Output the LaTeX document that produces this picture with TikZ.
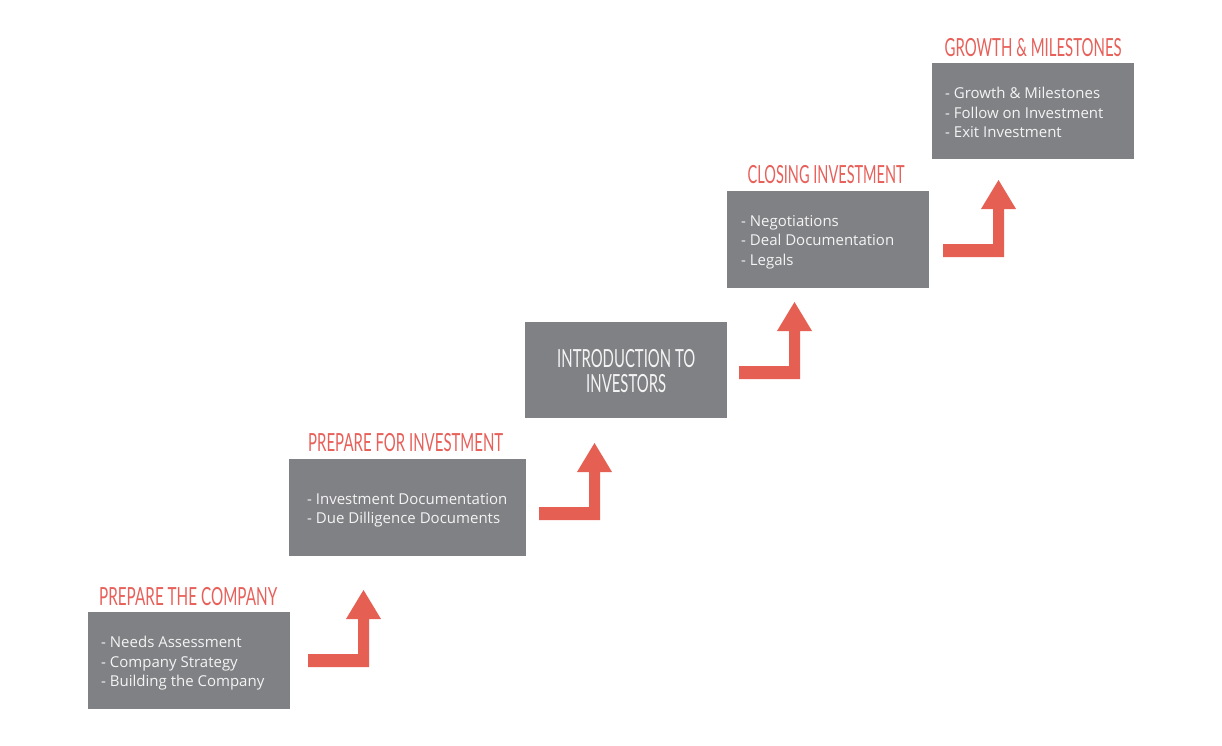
\documentclass[tikz,border=0pt]{standalone}
\usepackage{fontspec}
\setmainfont{Open Sans}
\newfontfamily\titlefont{Lato}
\usepackage{graphicx}
\definecolor{boxgray}{HTML}{808184}
\definecolor{titlered}{HTML}{E8605A}
\definecolor{arrowred}{HTML}{E55F53}
\definecolor{boxtextc}{HTML}{F4F4F4}
\newcommand\tw[2]{\resizebox{#1pt}{\height}{#2}}
\newsavebox\measbox
\newcommand\twopair[3]{%
  \sbox\measbox{#2}%
  \pgfmathparse{#1/\wd\measbox}%
  \xdef\myratio{\pgfmathresult}%
  \scalebox{\myratio}[1]{#2}\\\scalebox{\myratio}[1]{#3}}
\begin{document}
\begin{tikzpicture}[x=1pt,y=-1pt,
  box/.style={fill=boxgray, draw=none, anchor=north west, inner sep=0pt, minimum height=97pt},
  boxtext/.style={text=boxtextc, align=left, anchor=west, inner sep=0pt, font=\fontsize{15}{19.5}\selectfont},
  ttl/.style={text=titlered, anchor=base, inner sep=0pt, font=\titlefont\fontsize{25}{25}\selectfont},
  bigtext/.style={text=boxtextc, align=center, inner sep=0pt, font=\titlefont\fontsize{25}{24.5}\selectfont},
  steparrow/.pic={\fill[arrowred] (0,0) -- (61,0) -- (61,-48) -- (73,-48) -- (55.5,-77) -- (38,-48) -- (50,-48) -- (50,-13) -- (0,-13) -- cycle;}]
\fill[white] (0,0) rectangle (1222,746);
\useasboundingbox (0,0) rectangle (1222,746);

% boxes
\node[box, minimum width=202pt] (b1) at (88,612) {};
\node[box, minimum width=237pt] (b2) at (289,459) {};
\node[box, minimum width=202pt, minimum height=96pt] (b3) at (525,322) {};
\node[box, minimum width=202pt] (b4) at (727,191) {};
\node[box, minimum width=202pt, minimum height=96pt] (b5) at (932,63) {};

% titles
\node[ttl] (t1) at ([xshift=-1pt,yshift=7pt]b1.north) {\tw{178}{PREPARE THE COMPANY}};
\node[ttl] (t2) at ([xshift=-2pt,yshift=8pt]b2.north) {\tw{195}{PREPARE FOR INVESTMENT}};
\node[ttl] (t4) at ([xshift=-2pt,yshift=7pt]b4.north) {\tw{157}{CLOSING INVESTMENT}};
\node[ttl] (t5) at ([yshift=6pt]b5.north) {\tw{177}{GROWTH \& MILESTONES}};

% box texts
\node[boxtext] (x1) at ([xshift=13pt,yshift=-2.5pt]b1.west) {- Needs Assessment\\- Company Strategy\\- Building the Company};
\node[boxtext] (x2) at ([xshift=18pt,yshift=-2.5pt]b2.west) {- Investment Documentation\\- Due Dilligence Documents};
\node[bigtext] (x3) at ([yshift=-1pt]b3.center) {\twopair{138}{INTRODUCTION TO}{INVESTORS}};
\node[boxtext] (x4) at ([xshift=14pt,yshift=-2.5pt]b4.west) {- Negotiations\\- Deal Documentation\\- Legals};
\node[boxtext] (x5) at ([xshift=13pt,yshift=-1.5pt]b5.west) {- Growth \& Milestones\\- Follow on Investment\\- Exit Investment};

% step arrows
\pic at (308,667) {steparrow};
\pic at (539,520) {steparrow};
\pic at (739,379) {steparrow};
\pic at (943,257) {steparrow};
\end{tikzpicture}
\end{document}
